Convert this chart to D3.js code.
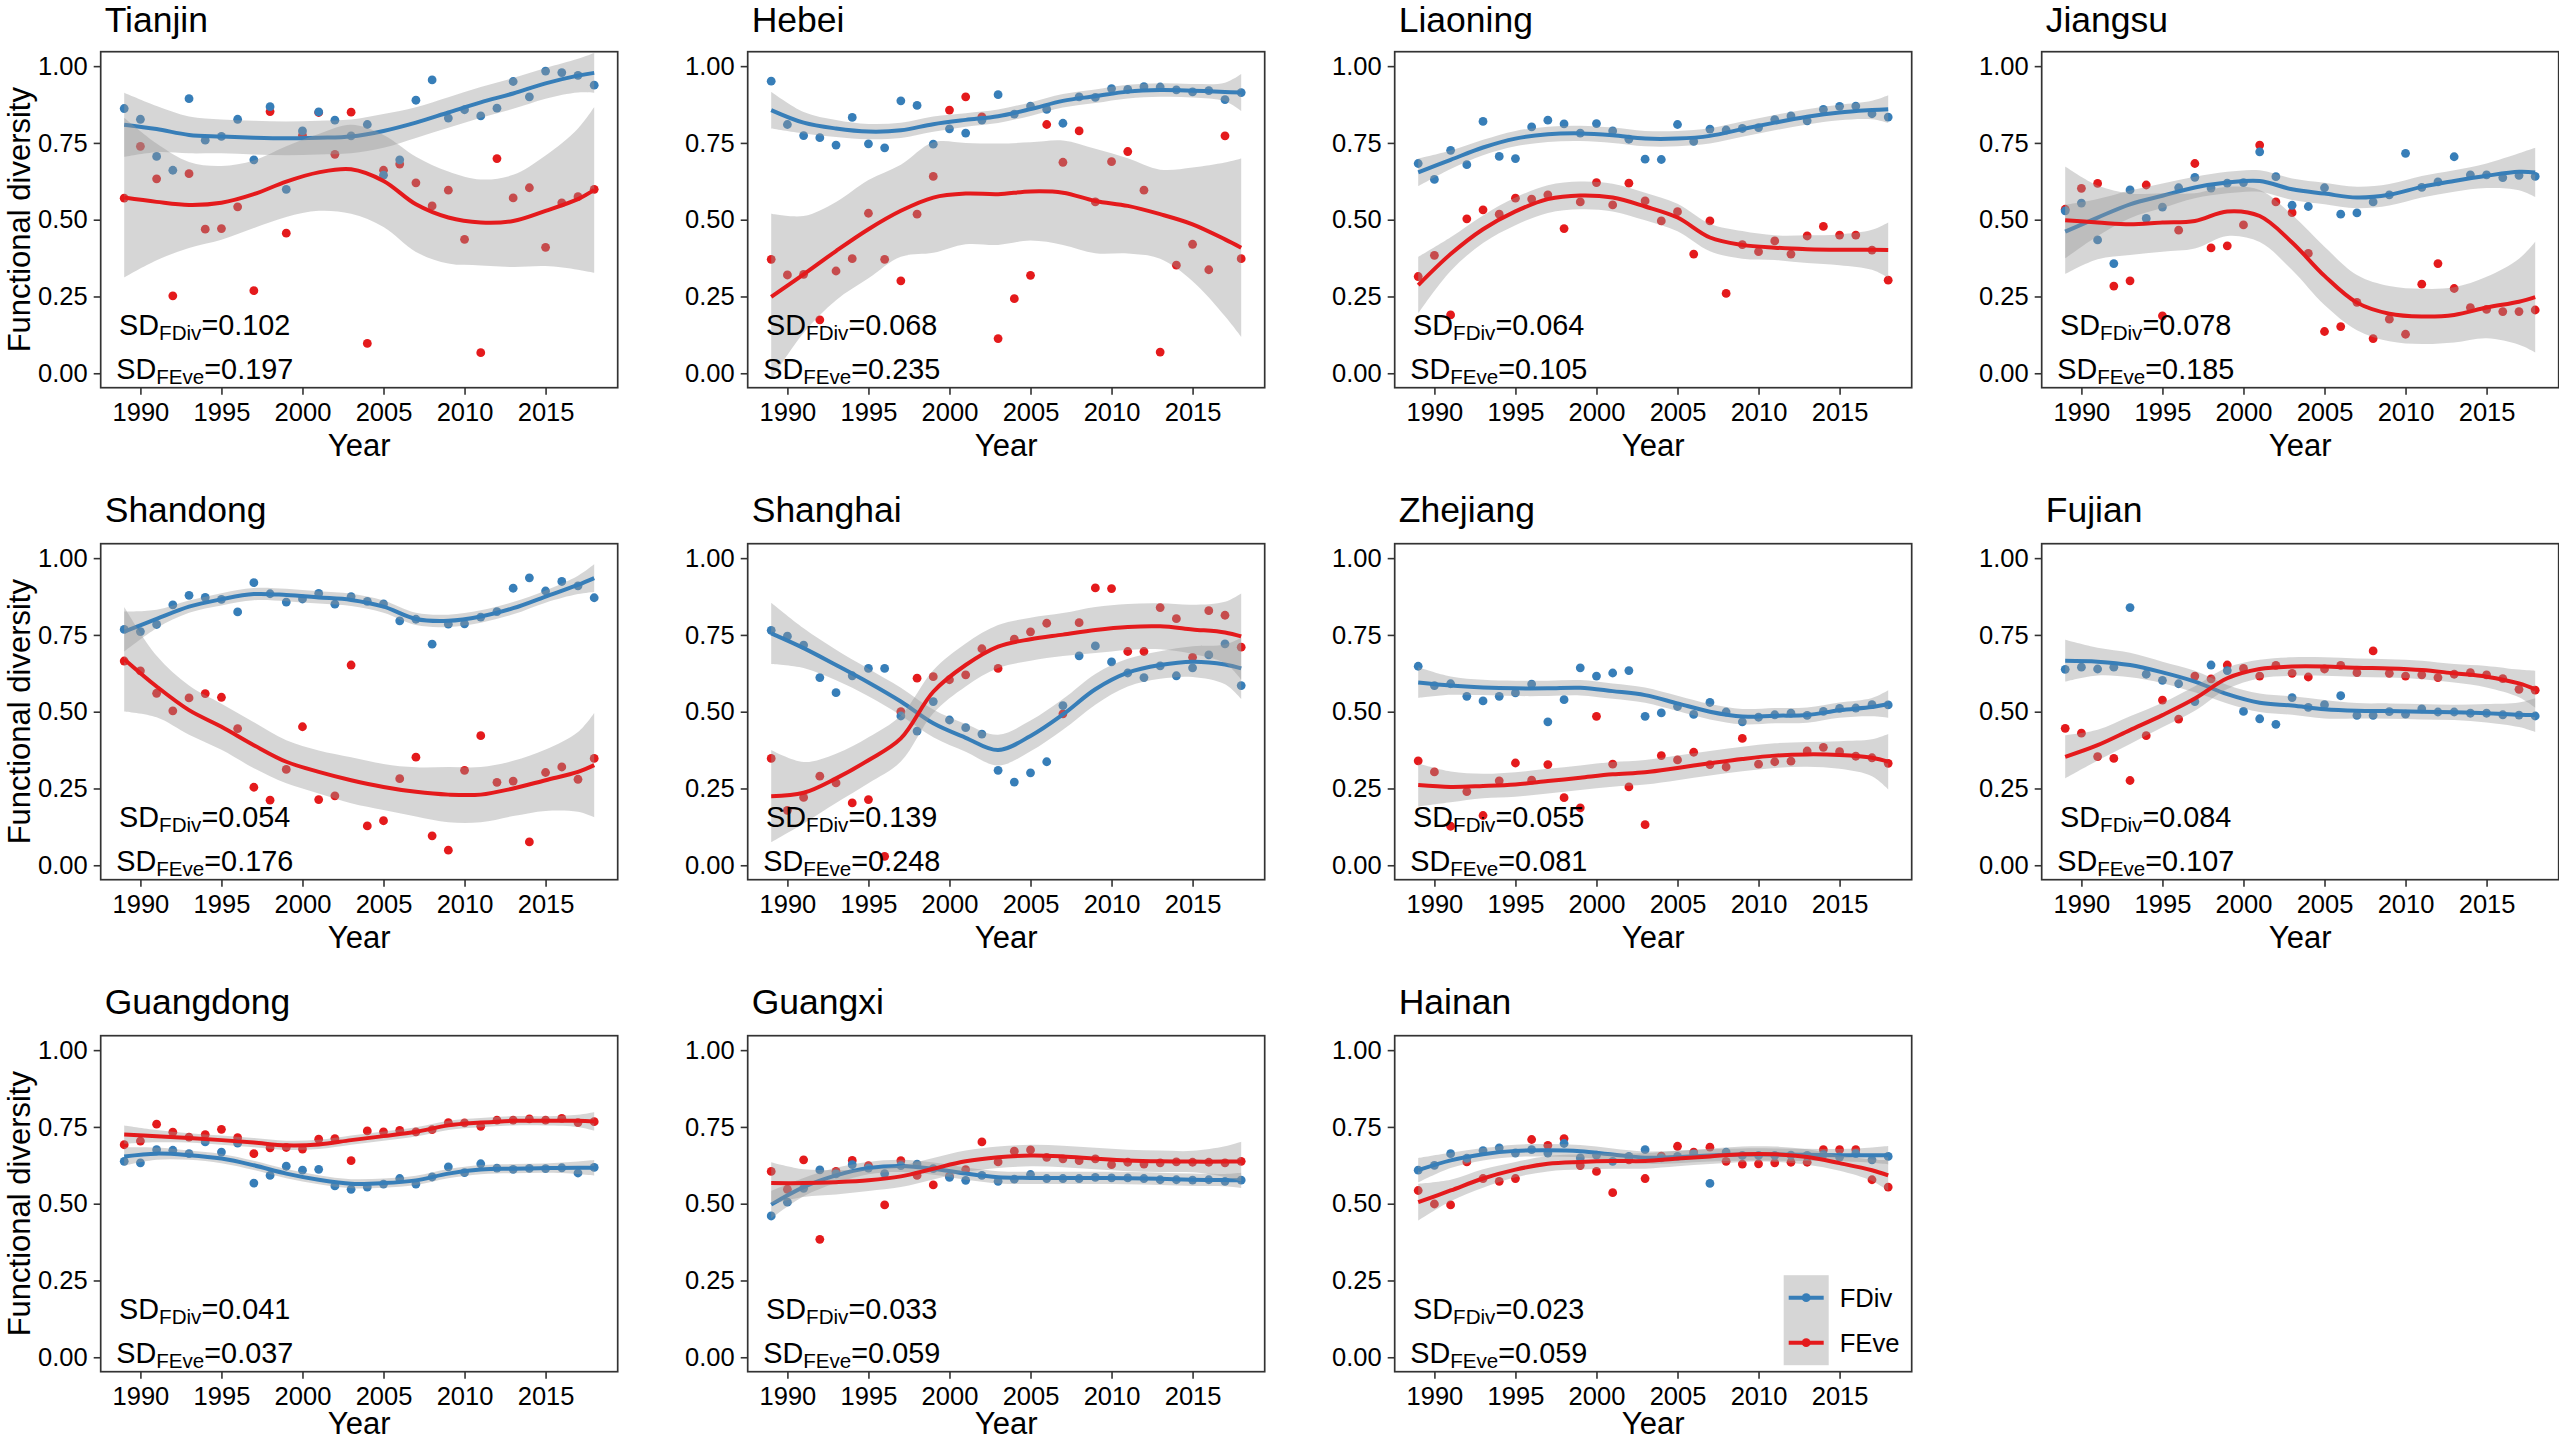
<!DOCTYPE html>
<html><head><meta charset="utf-8">
<script src="https://cdn.jsdelivr.net/npm/d3@7"></script>
<style>body{margin:0;background:#fff;} svg{display:block;font-family:"Liberation Sans",Arial,sans-serif;}</style>
</head><body><svg id="chart" width="2559" height="1443"></svg>
<script>
const provinces = ["Tianjin","Hebei","Liaoning","Jiangsu","Shandong","Shanghai","Zhejiang","Fujian","Guangdong","Guangxi","Hainan"];
const years = [1989,1990,1991,1992,1993,1994,1995,1996,1997,1998,1999,2000,2001,2002,2003,2004,2005,2006,2007,2008,2009,2010,2011,2012,2013,2014,2015,2016,2017,2018];
const fitYears = [1989,1991,1993,1995,1997,1999,2001,2003,2005,2007,2009,2011,2013,2015,2017,2018];
const xTicks = [1990,1995,2000,2005,2010,2015];
const yTicks = [0,0.25,0.5,0.75,1];
const seriesNames = ["FDiv","FEve"];
const sdFDiv = [0.102,0.068,0.064,0.078,0.054,0.139,0.055,0.084,0.041,0.033,0.023];
const sdFEve = [0.197,0.235,0.105,0.185,0.176,0.248,0.081,0.107,0.037,0.059,0.059];

const fdiv = [
 [0.862,0.827,0.706,0.661,0.894,0.759,0.771,0.827,0.695,0.868,0.599,0.789,0.851,0.824,0.773,0.810,0.645,0.695,0.889,0.955,0.831,0.858,0.838,0.863,0.950,0.900,0.984,0.979,0.970,0.938],
 [0.951,0.810,0.774,0.767,0.743,0.833,0.747,0.734,0.887,0.872,0.746,0.796,0.782,0.824,0.907,0.844,0.870,0.859,0.814,0.900,0.898,0.927,0.924,0.933,0.932,0.923,0.916,0.920,0.891,0.914],
 [0.683,0.631,0.726,0.679,0.820,0.706,0.699,0.802,0.824,0.812,0.782,0.813,0.789,0.762,0.697,0.696,0.810,0.755,0.795,0.792,0.797,0.800,0.826,0.838,0.822,0.859,0.869,0.870,0.845,0.834],
 [0.529,0.554,0.434,0.357,0.597,0.504,0.541,0.604,0.638,0.603,0.619,0.621,0.721,0.640,0.547,0.543,0.604,0.518,0.522,0.558,0.581,0.716,0.605,0.623,0.705,0.646,0.646,0.637,0.644,0.641],
 [0.768,0.761,0.784,0.848,0.879,0.872,0.866,0.825,0.920,0.884,0.857,0.867,0.885,0.850,0.875,0.859,0.851,0.796,0.801,0.720,0.785,0.786,0.808,0.826,0.902,0.936,0.893,0.924,0.910,0.871],
 [0.765,0.746,0.717,0.611,0.562,0.617,0.641,0.641,0.486,0.437,0.533,0.473,0.448,0.427,0.309,0.271,0.301,0.337,0.520,0.682,0.714,0.662,0.626,0.611,0.649,0.617,0.643,0.685,0.721,0.585],
 [0.648,0.585,0.591,0.550,0.535,0.550,0.561,0.590,0.467,0.539,0.643,0.616,0.626,0.634,0.485,0.496,0.517,0.491,0.530,0.499,0.467,0.482,0.490,0.495,0.488,0.501,0.511,0.512,0.523,0.522],
 [0.638,0.645,0.639,0.645,0.839,0.622,0.602,0.591,0.533,0.652,0.634,0.501,0.477,0.459,0.546,0.514,0.523,0.552,0.488,0.488,0.500,0.492,0.509,0.499,0.499,0.495,0.495,0.490,0.489,0.486],
 [0.638,0.633,0.676,0.674,0.663,0.701,0.668,0.697,0.567,0.592,0.622,0.609,0.612,0.558,0.547,0.554,0.564,0.582,0.564,0.587,0.620,0.601,0.630,0.616,0.612,0.615,0.614,0.617,0.600,0.618],
 [0.460,0.505,0.550,0.610,0.597,0.627,0.616,0.598,0.624,0.629,0.614,0.586,0.576,0.592,0.573,0.580,0.595,0.582,0.582,0.582,0.586,0.584,0.584,0.582,0.578,0.578,0.577,0.578,0.573,0.577],
 [0.609,0.625,0.663,0.648,0.673,0.682,0.665,0.676,0.665,0.696,0.649,0.658,0.638,0.654,0.676,0.649,0.654,0.662,0.566,0.668,0.657,0.657,0.657,0.658,0.657,0.660,0.652,0.663,0.643,0.654]
];
const feve = [
 [0.570,0.739,0.633,0.252,0.650,0.469,0.471,0.542,0.269,0.852,0.456,0.775,0.849,0.713,0.850,0.097,0.661,0.681,0.620,0.545,0.596,0.436,0.067,0.699,0.571,0.604,0.410,0.555,0.575,0.599],
 [0.371,0.320,0.322,0.174,0.333,0.373,0.521,0.371,0.301,0.518,0.641,0.857,0.900,0.835,0.113,0.243,0.319,0.810,0.687,0.789,0.558,0.689,0.722,0.596,0.069,0.352,0.420,0.337,0.773,0.373],
 [0.315,0.384,0.190,0.503,0.532,0.518,0.570,0.567,0.581,0.471,0.558,0.621,0.548,0.619,0.561,0.496,0.526,0.388,0.496,0.260,0.419,0.396,0.431,0.388,0.447,0.478,0.450,0.450,0.401,0.303],
 [0.534,0.602,0.618,0.284,0.301,0.613,0.187,0.466,0.683,0.408,0.415,0.483,0.743,0.558,0.523,0.390,0.136,0.152,0.231,0.113,0.176,0.127,0.290,0.357,0.276,0.214,0.208,0.201,0.201,0.206],
 [0.665,0.633,0.560,0.503,0.545,0.559,0.547,0.445,0.254,0.212,0.312,0.451,0.214,0.226,0.652,0.128,0.145,0.282,0.352,0.096,0.049,0.309,0.422,0.270,0.274,0.076,0.302,0.320,0.280,0.348],
 [0.348,0.179,0.221,0.290,0.268,0.203,0.214,0.029,0.500,0.609,0.614,0.604,0.620,0.705,0.641,0.736,0.760,0.788,0.493,0.790,0.903,0.901,0.696,0.696,0.839,0.803,0.677,0.829,0.814,0.710],
 [0.340,0.304,0.127,0.240,0.162,0.275,0.333,0.277,0.328,0.220,0.187,0.485,0.329,0.255,0.132,0.357,0.343,0.368,0.328,0.320,0.413,0.329,0.337,0.339,0.372,0.384,0.370,0.355,0.350,0.332],
 [0.446,0.430,0.354,0.348,0.276,0.422,0.538,0.476,0.616,0.607,0.652,0.641,0.616,0.651,0.625,0.613,0.639,0.651,0.627,0.698,0.625,0.616,0.620,0.611,0.622,0.627,0.620,0.608,0.573,0.570],
 [0.692,0.704,0.759,0.733,0.717,0.725,0.742,0.715,0.663,0.682,0.683,0.678,0.710,0.712,0.640,0.737,0.734,0.739,0.734,0.741,0.764,0.763,0.752,0.772,0.772,0.776,0.772,0.778,0.764,0.767],
 [0.605,0.547,0.643,0.384,0.605,0.641,0.624,0.496,0.640,0.592,0.561,0.589,0.611,0.701,0.636,0.671,0.675,0.651,0.646,0.640,0.646,0.627,0.635,0.629,0.633,0.636,0.635,0.635,0.633,0.638],
 [0.543,0.499,0.496,0.636,0.582,0.573,0.582,0.709,0.690,0.712,0.624,0.605,0.536,0.643,0.582,0.655,0.687,0.668,0.684,0.638,0.629,0.630,0.633,0.635,0.635,0.676,0.676,0.676,0.578,0.554]
];
const fdivFit = [
 [0.809,0.795,0.776,0.771,0.767,0.765,0.767,0.771,0.789,0.816,0.849,0.882,0.911,0.944,0.969,0.978],
 [0.857,0.816,0.797,0.787,0.791,0.811,0.825,0.837,0.860,0.887,0.902,0.917,0.922,0.920,0.916,0.914],
 [0.654,0.695,0.735,0.764,0.778,0.781,0.775,0.764,0.764,0.773,0.795,0.816,0.835,0.849,0.857,0.860],
 [0.461,0.507,0.550,0.578,0.605,0.621,0.626,0.599,0.585,0.572,0.581,0.607,0.626,0.643,0.656,0.654],
 [0.761,0.802,0.842,0.866,0.883,0.880,0.872,0.864,0.842,0.802,0.796,0.810,0.837,0.875,0.913,0.935],
 [0.755,0.707,0.652,0.595,0.533,0.462,0.415,0.375,0.421,0.491,0.573,0.627,0.652,0.663,0.654,0.641],
 [0.595,0.585,0.579,0.576,0.576,0.578,0.567,0.554,0.527,0.500,0.484,0.487,0.489,0.505,0.515,0.525],
 [0.666,0.663,0.652,0.628,0.598,0.557,0.529,0.520,0.508,0.503,0.502,0.500,0.498,0.495,0.490,0.489],
 [0.654,0.663,0.658,0.647,0.625,0.598,0.578,0.565,0.567,0.576,0.598,0.611,0.614,0.616,0.617,0.617],
 [0.497,0.554,0.592,0.616,0.623,0.614,0.598,0.586,0.584,0.584,0.584,0.583,0.581,0.578,0.577,0.576],
 [0.609,0.641,0.661,0.672,0.674,0.671,0.660,0.650,0.652,0.657,0.660,0.660,0.659,0.658,0.658,0.658]
];
const feveFit = [
 [0.572,0.558,0.548,0.555,0.583,0.624,0.654,0.664,0.626,0.550,0.507,0.491,0.496,0.529,0.567,0.597],
 [0.249,0.322,0.398,0.469,0.529,0.572,0.585,0.583,0.592,0.588,0.561,0.545,0.518,0.485,0.436,0.409],
 [0.287,0.388,0.469,0.527,0.567,0.579,0.572,0.543,0.507,0.442,0.418,0.409,0.404,0.402,0.402,0.401],
 [0.498,0.491,0.485,0.491,0.496,0.527,0.512,0.426,0.317,0.230,0.194,0.185,0.190,0.214,0.233,0.248],
 [0.671,0.582,0.505,0.451,0.391,0.337,0.304,0.277,0.255,0.239,0.230,0.230,0.250,0.277,0.304,0.326],
 [0.225,0.236,0.283,0.342,0.413,0.565,0.652,0.712,0.736,0.751,0.766,0.776,0.778,0.768,0.758,0.745],
 [0.261,0.255,0.258,0.263,0.274,0.285,0.296,0.303,0.317,0.332,0.346,0.357,0.361,0.359,0.350,0.337],
 [0.353,0.391,0.440,0.489,0.543,0.609,0.639,0.647,0.647,0.643,0.641,0.636,0.625,0.614,0.592,0.573],
 [0.725,0.720,0.714,0.707,0.699,0.690,0.693,0.707,0.720,0.734,0.755,0.764,0.770,0.770,0.770,0.768],
 [0.567,0.567,0.570,0.576,0.589,0.614,0.638,0.651,0.657,0.654,0.647,0.641,0.638,0.637,0.637,0.637],
 [0.505,0.543,0.582,0.611,0.630,0.636,0.639,0.639,0.647,0.654,0.661,0.661,0.652,0.632,0.609,0.592]
];
const fdivBand = [
 [0.104,0.075,0.06,0.055,0.055,0.055,0.055,0.055,0.055,0.05,0.05,0.05,0.05,0.05,0.055,0.065],
 [0.06,0.035,0.028,0.025,0.025,0.025,0.022,0.022,0.022,0.022,0.022,0.022,0.022,0.022,0.03,0.06],
 [0.045,0.03,0.025,0.025,0.025,0.025,0.025,0.025,0.025,0.025,0.025,0.025,0.025,0.025,0.03,0.045],
 [0.087,0.06,0.045,0.04,0.035,0.035,0.035,0.035,0.035,0.035,0.035,0.035,0.035,0.04,0.06,0.08],
 [0.065,0.03,0.02,0.02,0.02,0.02,0.02,0.02,0.02,0.02,0.02,0.02,0.02,0.02,0.03,0.045],
 [0.1,0.065,0.05,0.045,0.045,0.045,0.045,0.05,0.05,0.05,0.05,0.045,0.045,0.05,0.065,0.1],
 [0.05,0.03,0.025,0.025,0.025,0.025,0.025,0.025,0.025,0.025,0.025,0.025,0.025,0.025,0.03,0.045],
 [0.068,0.045,0.04,0.035,0.035,0.03,0.03,0.03,0.03,0.025,0.025,0.025,0.025,0.03,0.04,0.055],
 [0.03,0.02,0.015,0.015,0.015,0.015,0.015,0.015,0.015,0.015,0.015,0.015,0.015,0.015,0.02,0.025],
 [0.045,0.03,0.025,0.02,0.02,0.02,0.02,0.02,0.02,0.02,0.02,0.02,0.02,0.02,0.02,0.025],
 [0.04,0.025,0.02,0.02,0.02,0.02,0.02,0.02,0.02,0.02,0.02,0.02,0.02,0.02,0.025,0.03]
];
const feveBand = [
 [0.26,0.19,0.14,0.12,0.11,0.115,0.125,0.145,0.15,0.155,0.15,0.14,0.15,0.18,0.23,0.27],
 [0.27,0.19,0.16,0.16,0.15,0.18,0.165,0.165,0.16,0.17,0.17,0.155,0.145,0.185,0.25,0.29],
 [0.092,0.055,0.045,0.045,0.045,0.045,0.045,0.045,0.045,0.045,0.045,0.04,0.045,0.05,0.065,0.09],
 [0.175,0.12,0.1,0.095,0.09,0.08,0.085,0.09,0.095,0.09,0.09,0.09,0.09,0.1,0.14,0.18],
 [0.17,0.1,0.08,0.075,0.075,0.07,0.07,0.075,0.075,0.08,0.09,0.09,0.09,0.1,0.13,0.17],
 [0.15,0.1,0.08,0.075,0.075,0.07,0.07,0.07,0.07,0.07,0.075,0.075,0.075,0.08,0.1,0.14],
 [0.07,0.05,0.04,0.04,0.04,0.04,0.04,0.04,0.04,0.04,0.04,0.04,0.04,0.045,0.06,0.09],
 [0.07,0.05,0.045,0.04,0.04,0.035,0.03,0.03,0.03,0.03,0.03,0.03,0.03,0.035,0.045,0.06],
 [0.03,0.02,0.015,0.015,0.015,0.015,0.015,0.015,0.015,0.015,0.015,0.015,0.015,0.015,0.02,0.03],
 [0.068,0.045,0.04,0.035,0.035,0.035,0.035,0.035,0.035,0.035,0.035,0.035,0.035,0.035,0.05,0.065],
 [0.06,0.035,0.03,0.025,0.025,0.025,0.025,0.025,0.025,0.025,0.025,0.025,0.025,0.025,0.035,0.05]
];

const svg = d3.select("#chart");
const W = 517, H = 336, X0 = 100.7, Y0 = 51.7, DX = 647, DY = 492;
const BLUE = "#377EB8", RED = "#E41A1C", RIB = "#999999";
const curve = d3.curveCatmullRom.alpha(0.5);

provinces.forEach((name, i) => {
  const c = i % 4, r = Math.floor(i / 4);
  const g = svg.append("g").attr("transform", `translate(${X0 + c * DX},${Y0 + r * DY})`);
  const x = d3.scaleLinear().domain([1987.55, 2019.45]).range([0, W]);
  const y = d3.scaleLinear().domain([-0.047, 1.047]).range([H, 0]);

  g.append("clipPath").attr("id", "clip" + i).append("rect").attr("width", W).attr("height", H);
  const plot = g.append("g").attr("clip-path", `url(#clip${i})`);

  [[feve[i], RED], [fdiv[i], BLUE]].forEach(([vals, col]) => {
    plot.append("g").selectAll("circle").data(vals).join("circle")
      .attr("cx", (d, j) => x(years[j])).attr("cy", d => y(d)).attr("r", 4.4).attr("fill", col);
  });

  [[fdivFit[i], fdivBand[i], BLUE], [feveFit[i], feveBand[i], RED]].forEach(([fit, band, col]) => {
    const pts = fitYears.map((yr, j) => ({ yr, f: fit[j], h: band[j] }));
    plot.append("path").datum(pts)
      .attr("d", d3.area().x(d => x(d.yr)).y0(d => y(d.f - d.h)).y1(d => y(d.f + d.h)).curve(curve))
      .attr("fill", RIB).attr("fill-opacity", 0.4);
    plot.append("path").datum(pts)
      .attr("d", d3.line().x(d => x(d.yr)).y(d => y(d.f)).curve(curve))
      .attr("fill", "none").attr("stroke", col).attr("stroke-width", 4).attr("stroke-linecap", "butt");
  });

  // SD annotations
  const sdLines = [[sdFDiv[i], "FDiv", 283.3], [sdFEve[i], "FEve", 327.3]];
  sdLines.forEach(([v, sub, yy]) => {
    const t = g.append("text").attr("x", 104).attr("y", yy).attr("text-anchor", "middle")
      .style("font-size", "28.8px").attr("fill", "#000");
    t.append("tspan").text("SD");
    t.append("tspan").attr("dy", 5.5).style("font-size", "20.6px").text(sub);
    t.append("tspan").attr("dy", -5.5).text("=" + v.toFixed(3));
  });

  // border
  g.append("rect").attr("width", W).attr("height", H).attr("fill", "none")
    .attr("stroke", "#333333").attr("stroke-width", 1.7);

  // axes
  const ya = g.append("g").call(d3.axisLeft(y).tickValues(yTicks).tickFormat(d3.format(".2f")).tickSize(7).tickPadding(6));
  const xa = g.append("g").attr("transform", `translate(0,${H})`)
    .call(d3.axisBottom(x).tickValues(xTicks).tickFormat(d3.format("d")).tickSize(7).tickPadding(8));
  [ya, xa].forEach(a => {
    a.select(".domain").remove();
    a.selectAll(".tick line").attr("stroke", "#333333").attr("stroke-width", 1.6);
    a.selectAll(".tick text").attr("fill", "#000").style("font-size", "25.5px")
      .style("font-family", '"Liberation Sans",Arial,sans-serif');
  });

  // title
  g.append("text").attr("x", 4).attr("y", r === 0 ? -19.5 : -22).style("font-size", "35.5px").attr("fill", "#000").text(name);
  // x label
  g.append("text").attr("x", W / 2).attr("y", H + (r === 2 ? 62 : 68.3)).attr("text-anchor", "middle")
    .style("font-size", "31px").attr("fill", "#000").text("Year");
  if (c === 0) {
    g.append("text").attr("transform", `translate(${29.5 - X0},${H / 2}) rotate(-90)`)
      .attr("text-anchor", "middle").style("font-size", "31px").attr("fill", "#000").text("Functional diversity");
  }

  // legend in the last panel
  if (i === provinces.length - 1) {
    const lg = g.append("g").attr("transform", "translate(389,239.5)");
    lg.append("rect").attr("width", 45).attr("height", 90).attr("fill", RIB).attr("fill-opacity", 0.4);
    seriesNames.forEach((s, k) => {
      const col = k === 0 ? BLUE : RED;
      const cy = 22.5 + k * 45;
      lg.append("line").attr("x1", 5).attr("x2", 40).attr("y1", cy).attr("y2", cy)
        .attr("stroke", col).attr("stroke-width", 4);
      lg.append("circle").attr("cx", 22.5).attr("cy", cy).attr("r", 4.4).attr("fill", col);
      lg.append("text").attr("x", 56).attr("y", cy).attr("dy", "0.35em")
        .style("font-size", "25.6px").attr("fill", "#000").text(s);
    });
  }
});
</script>
</body></html>
